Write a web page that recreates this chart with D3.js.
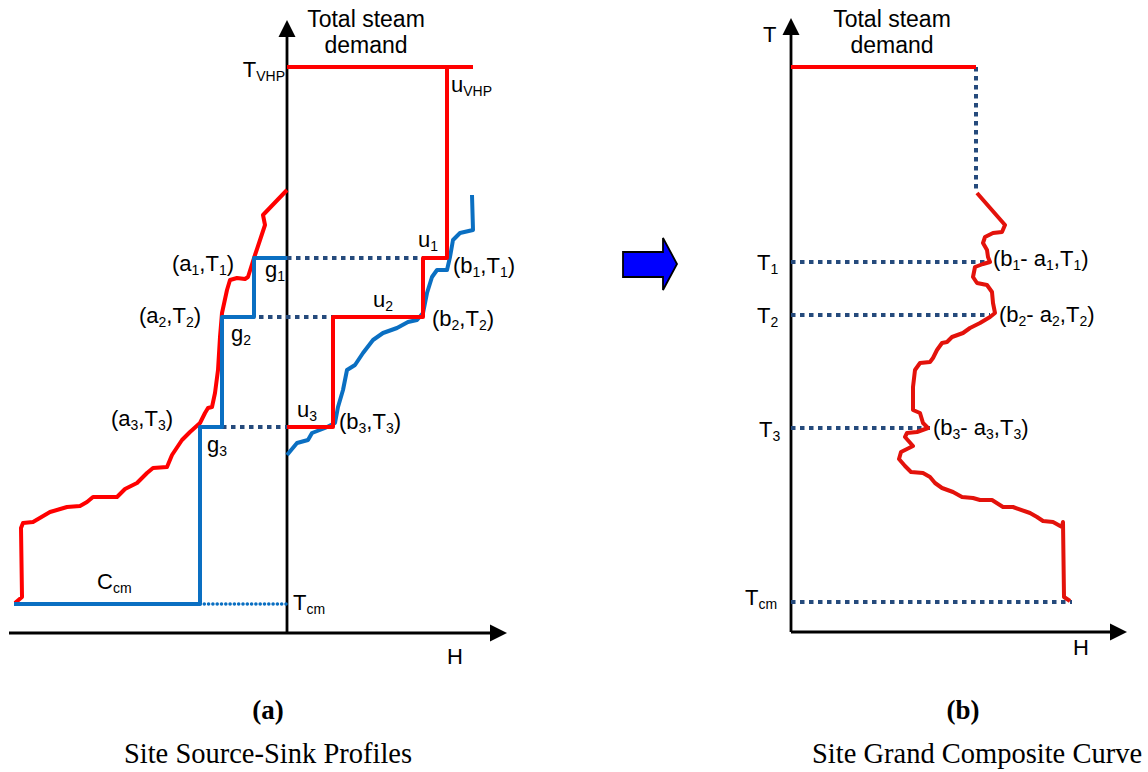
<!DOCTYPE html>
<html>
<head>
<meta charset="utf-8">
<script src="https://cdn.jsdelivr.net/npm/d3@7"></script>
<style>
  html, body { margin: 0; padding: 0; background: #fff; }
  svg { display: block; }
</style>
</head>
<body>
<svg id="chart" width="1148" height="772"></svg>
<script>
// ---------------- DATA (schematic units: H = enthalpy, T = temperature) ----------------
// Panel (a): Site Source-Sink Profiles
const levelNamesA = ["T_VHP", "T1", "T2", "T3", "Tcm"];
const levelValuesA = [566, 375, 316, 206, 29];

// site source profile (red, left of T axis)  [H, T]
const sourceProfile = [
  [0,443],[-24,418],[-22,408],[-32,378],[-39,356],[-42,354],[-50,355],[-57,353],[-60,343],
  [-65,320],[-67,296],[-69,263],[-72,240],[-75,226],[-79,225],[-82,220],[-87,210],[-97,201],
  [-105,193],[-115,178],[-120,166],[-134,165],[-140,160],[-150,150],[-162,144],[-170,136],
  [-194,136],[-200,131],[-207,127],[-220,126],[-237,121],[-254,111],[-264,110],[-266,105],
  [-265,36],[-272,30]
];
// steam generation steps g1..g3 and cooling C_cm (blue, left)
const generationSteps = [
  [-273,29],[-87,29],[-87,206],[-65,206],[-65,316],[-33,316],[-33,375],[0,375]
];
// site sink profile (blue, right of T axis)
const sinkProfile = [
  [185,438],[186,403],[173,400],[166,393],[163,376],[160,363],[150,363],[145,356],[140,340],
  [136,320],[130,313],[121,311],[110,305],[96,300],[86,293],[76,280],[68,268],[60,263],
  [56,243],[51,226],[48,210],[38,205],[25,200],[21,193],[10,190],[0,178]
];
// total steam demand (top) and steam use steps u_VHP, u1..u3 (red, right)
const steamDemandA = [[0,566],[186,566]];
const useSteps = [
  [160,566],[160,375],[136,375],[136,316],[46,316],[46,206],[0,206]
];
// dotted level links [H start, H end, T]
const dottedLinksA = [[0,136,375],[-37,46,316],[-74,0,206]];
const coolingLink = [-87, 0, 29];

// Panel (b): Site Grand Composite Curve
const levelNamesB = ["T1", "T2", "T3", "Tcm"];
const levelValuesB = [370, 317, 204, 30];
const steamDemandB = [[0,565],[185,565]];
const demandDrop = [[185,565],[185,440]];
const grandComposite = [
  [186,439],[214,407],[211,400],[202,399],[194,395],[192,389],[196,382],[197,375],[199,370],
  [192,368],[184,365],[182,355],[186,349],[196,347],[201,340],[202,329],[204,319],[199,315],
  [189,309],[179,304],[172,299],[161,295],[156,290],[151,289],[146,282],[142,274],[139,270],
  [129,269],[124,262],[122,245],[122,222],[129,219],[132,209],[137,204],[126,200],[116,199],
  [114,195],[122,186],[110,180],[108,173],[114,166],[120,160],[132,159],[139,155],[144,149],
  [151,144],[162,140],[171,135],[182,134],[189,132],[201,132],[212,125],[222,125],[239,119],
  [246,115],[252,111],[262,110],[271,105],[272,110],[273,35],[279,31]
];
const dottedLinksB = [[0,197,370],[0,199,317],[0,139,204],[0,281,30]];

// ---------------- STYLE ----------------
const RED = "#ff0000";
const RED_B = "#e3120b";
const BLUE = "#0a6fc2";
const NAVY = "#254a7c";
const SANS = "'Liberation Sans', Arial, Helvetica, sans-serif";
const SERIF = "'Liberation Serif', 'Times New Roman', serif";

const svg = d3.select("#chart");
svg.append("rect").attr("width",1148).attr("height",772).attr("fill","#fff");

// ---------------- SCALES ----------------
const xA = d3.scaleLinear().domain([-278, 220]).range([9, 507]);
const yA = d3.scaleLinear().domain([0, 613]).range([633, 20]);
const xB = d3.scaleLinear().domain([0, 336]).range([791, 1127]);
const yB = d3.scaleLinear().domain([0, 614]).range([632, 18]);

function lineGen(x, y) {
  return d3.line().x(d => x(d[0])).y(d => y(d[1])).curve(d3.curveLinear);
}
const lineA = lineGen(xA, yA);
const lineB = lineGen(xB, yB);

function drawPath(data, gen, color, width, dash, cap) {
  svg.append("path")
    .attr("d", gen(data))
    .attr("fill", "none")
    .attr("stroke", color)
    .attr("stroke-width", width)
    .attr("stroke-linejoin", "round")
    .attr("stroke-linecap", cap || "butt")
    .attr("stroke-dasharray", dash || null);
}

function drawAxes(x, y, xDom, yDom) {
  const g = svg.append("g");
  const x0 = x(0), y0 = y(0);
  const top = y(yDom), right = x(xDom[1]);
  g.append("line").attr("x1", x0).attr("x2", x0).attr("y1", y0).attr("y2", top + 14)
    .attr("stroke", "#000").attr("stroke-width", 2.8);
  g.append("path").attr("d", `M${x0},${top} L${x0-8.5},${top+17} L${x0+8.5},${top+17} Z`).attr("fill", "#000");
  g.append("line").attr("x1", x(xDom[0])).attr("x2", right - 14).attr("y1", y0).attr("y2", y0)
    .attr("stroke", "#000").attr("stroke-width", 2.8);
  g.append("path").attr("d", `M${right},${y0} L${right-17},${y0-8.5} L${right-17},${y0+8.5} Z`).attr("fill", "#000");
}

// rich text with subscripts: parts = [[text, isSub], ...]
function label(x, y, parts, anchor, size) {
  size = size || 22;
  const t = svg.append("text").attr("x", x).attr("y", y)
    .attr("font-family", SANS).attr("font-size", size).attr("fill", "#000")
    .attr("text-anchor", anchor || "start");
  let shifted = false;
  parts.forEach(p => {
    const s = t.append("tspan").text(p[0]);
    if (p[1]) {
      s.attr("font-size", Math.round(size * 0.64));
      if (!shifted) { s.attr("dy", 4); shifted = true; }
    } else {
      s.attr("font-size", size);
      if (shifted) { s.attr("dy", -4); shifted = false; }
    }
  });
  return t;
}

// ---------------- PANEL (a) ----------------
drawAxes(xA, yA, [-278, 220], 613);

// dotted links
dottedLinksA.forEach(d => drawPath([[d[0], d[2]], [d[1], d[2]]], lineA, NAVY, 4, "4.5 4.5"));
drawPath([[coolingLink[0], coolingLink[2]], [coolingLink[1], coolingLink[2]]], lineA, BLUE, 3.6, "0 4.3", "round");

drawPath(sourceProfile, lineA, RED, 4);
drawPath(generationSteps, lineA, BLUE, 4);
drawPath(sinkProfile, lineA, BLUE, 4);
drawPath(steamDemandA, lineA, RED, 4);
drawPath(useSteps, lineA, RED, 4);

label(366, 27, [["Total steam", false]], "middle", 23);
label(366, 53, [["demand", false]], "middle", 23);
label(285, 77, [["T", false], ["VHP", true]], "end");
label(451, 92, [["u", false], ["VHP", true]]);
label(418, 247, [["u", false], ["1", true]]);
label(373, 307, [["u", false], ["2", true]]);
label(297, 417, [["u", false], ["3", true]]);
label(453, 273, [["(b", false], ["1", true], [",T", false], ["1", true], [")", false]]);
label(432, 326, [["(b", false], ["2", true], [",T", false], ["2", true], [")", false]]);
label(339, 429, [["(b", false], ["3", true], [",T", false], ["3", true], [")", false]]);
label(172, 271, [["(a", false], ["1", true], [",T", false], ["1", true], [")", false]]);
label(139, 323, [["(a", false], ["2", true], [",T", false], ["2", true], [")", false]]);
label(111, 426, [["(a", false], ["3", true], [",T", false], ["3", true], [")", false]]);
label(265, 277, [["g", false], ["1", true]]);
label(231, 341, [["g", false], ["2", true]]);
label(207, 452, [["g", false], ["3", true]]);
label(97, 589, [["C", false], ["cm", true]]);
label(293, 610, [["T", false], ["cm", true]]);
label(447, 664, [["H", false]]);

// ---------------- ARROW ----------------
svg.append("path")
  .attr("d", "M623,252 L663,252 L663,238 L677,264 L663,290 L663,277 L623,277 Z")
  .attr("fill", "#0000ff").attr("stroke", "#000").attr("stroke-width", 1.8)
  .attr("stroke-linejoin", "miter");

// ---------------- PANEL (b) ----------------
drawAxes(xB, yB, [0, 336], 614);
dottedLinksB.forEach(d => drawPath([[d[0], d[2]], [d[1], d[2]]], lineB, NAVY, 4, "4.5 4.5"));
drawPath(demandDrop, lineB, NAVY, 4, "4.5 4.5");
drawPath(steamDemandB, lineB, RED, 4);
drawPath(grandComposite, lineB, RED_B, 4);

label(763, 42, [["T", false]]);
label(892, 27, [["Total steam", false]], "middle", 23);
label(892, 53, [["demand", false]], "middle", 23);
label(757, 270, [["T", false], ["1", true]]);
label(757, 323, [["T", false], ["2", true]]);
label(759, 437, [["T", false], ["3", true]]);
label(745, 605, [["T", false], ["cm", true]]);
label(1073, 655, [["H", false]]);
label(993, 266, [["(b", false], ["1", true], ["- a", false], ["1", true], [",T", false], ["1", true], [")", false]]);
label(999, 322, [["(b", false], ["2", true], ["- a", false], ["2", true], [",T", false], ["2", true], [")", false]]);
label(933, 435, [["(b", false], ["3", true], ["- a", false], ["3", true], [",T", false], ["3", true], [")", false]]);

// ---------------- CAPTIONS ----------------
svg.append("text").attr("x", 268).attr("y", 719).attr("text-anchor", "middle")
  .attr("font-family", SERIF).attr("font-weight", "bold").attr("font-size", 27).text("(a)");
svg.append("text").attr("x", 268).attr("y", 763).attr("text-anchor", "middle")
  .attr("font-family", SERIF).attr("font-size", 28.5).text("Site Source-Sink Profiles");
svg.append("text").attr("x", 963).attr("y", 719).attr("text-anchor", "middle")
  .attr("font-family", SERIF).attr("font-weight", "bold").attr("font-size", 27).text("(b)");
svg.append("text").attr("x", 977).attr("y", 763).attr("text-anchor", "middle")
  .attr("font-family", SERIF).attr("font-size", 28.5).text("Site Grand Composite Curve");
</script>
</body>
</html>
